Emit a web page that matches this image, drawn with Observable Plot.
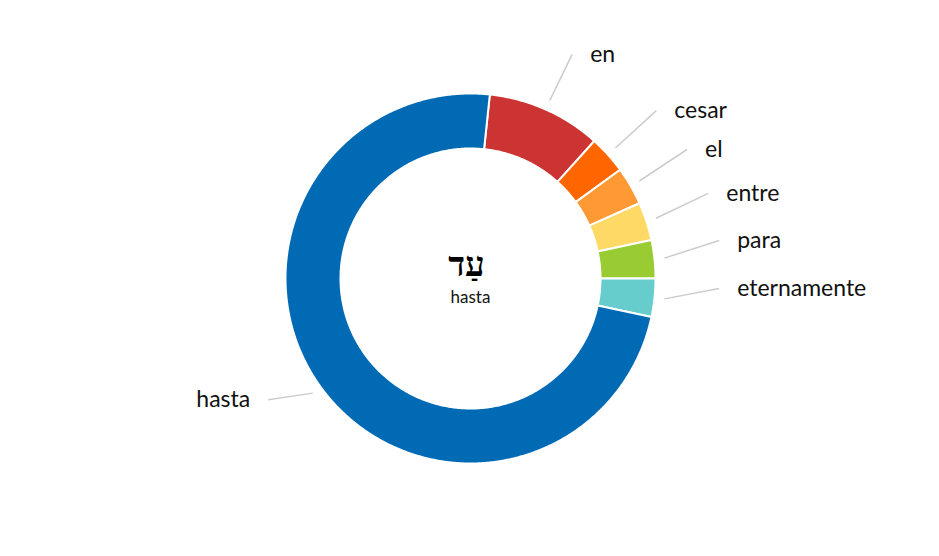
<!DOCTYPE html>
<html>
<head>
<meta charset="utf-8">
<script src="https://cdn.jsdelivr.net/npm/d3@7"></script>
<script src="https://cdn.jsdelivr.net/npm/@observablehq/plot@0.6"></script>
<style>
  html, body { margin: 0; padding: 0; background: #ffffff; }
  #chart { width: 939px; height: 556px; }
</style>
</head>
<body>
<div id="chart"></div>
<script>
// ---- data ----
const labels = ["en", "cesar", "el", "entre", "para", "eternamente", "hasta"];
const counts = [3, 1, 1, 1, 1, 1, 22];
const colors = ["#CC3333", "#FF6600", "#FF9933", "#FFD966", "#99CC33", "#66CCCC", "#006BB4"];
const centerWord = "עַד";
const centerGloss = "hasta";

// ---- layout ----
const W = 939, H = 556;
const cx = 470, cy = 278;
const outerR = 185, innerR = 130;
const startDeg = 6;

const rows = labels.map((label, i) => ({label, count: counts[i], color: colors[i]}));
const pie = d3.pie().sort(null).value(d => d.count)
  .startAngle(startDeg * Math.PI / 180)
  .endAngle(startDeg * Math.PI / 180 + 2 * Math.PI);
const arcs = pie(rows);

// polygon points for each slice
const pts = [];
for (const a of arcs) {
  const n = Math.max(4, Math.ceil((a.endAngle - a.startAngle) / (0.5 * Math.PI / 180)));
  for (let k = 0; k <= n; k++) {
    const t = a.startAngle + (a.endAngle - a.startAngle) * k / n;
    pts.push({label: a.data.label, color: a.data.color, x: outerR * Math.sin(t), y: -outerR * Math.cos(t)});
  }
  for (let k = n; k >= 0; k--) {
    const t = a.startAngle + (a.endAngle - a.startAngle) * k / n;
    pts.push({label: a.data.label, color: a.data.color, x: innerR * Math.sin(t), y: -innerR * Math.cos(t)});
  }
}

// label anchors
const lab = arcs.map(a => {
  const m = (a.startAngle + a.endAngle) / 2;
  const s = Math.sin(m), c = Math.cos(m);
  return {
    label: a.data.label,
    right: s >= 0,
    x1: (outerR + 10) * s,
    y1: -(outerR + 10) * c,
    x2: 250 * s,
    y2: -14 - 230 * c
  };
});

const font = "'Source Sans Pro', Lato, 'Noto Sans', sans-serif";

const chart = Plot.plot({
  width: W,
  height: H,
  margin: 0,
  x: {domain: [-cx, W - cx], range: [0, W], axis: null},
  y: {domain: [-cy, H - cy], range: [0, H], axis: null},
  color: {type: "identity"},
  style: {background: "#ffffff", fontFamily: font},
  marks: [
    Plot.line(pts, {x: "x", y: "y", z: "label", fill: "color", stroke: "#ffffff", strokeWidth: 2, curve: "linear-closed"}),
    Plot.link(lab, {x1: "x1", y1: "y1", x2: "x2", y2: "y2", stroke: "#cccccc", strokeWidth: 1.5}),
    Plot.text(lab.filter(d => d.right), {x: "x2", y: "y2", text: "label", textAnchor: "start", dx: 18, fontSize: 23, fill: "#111111", fontFamily: font}),
    Plot.text(lab.filter(d => !d.right), {x: "x2", y: "y2", text: "label", textAnchor: "end", dx: -18, fontSize: 23, fill: "#111111", fontFamily: font}),
    Plot.text([centerWord], {x: () => 0, y: () => 0, text: d => d, dy: -14, dx: -4, fontSize: 35, fontWeight: "bold", fill: "#000000", fontFamily: "'Liberation Serif', 'DejaVu Serif', serif"}),
    Plot.text([centerGloss], {x: () => 0, y: () => 0, text: d => d, dy: 19, fontSize: 17, fill: "#111111", fontFamily: font})
  ]
});
document.getElementById("chart").appendChild(chart);
</script>
</body>
</html>
